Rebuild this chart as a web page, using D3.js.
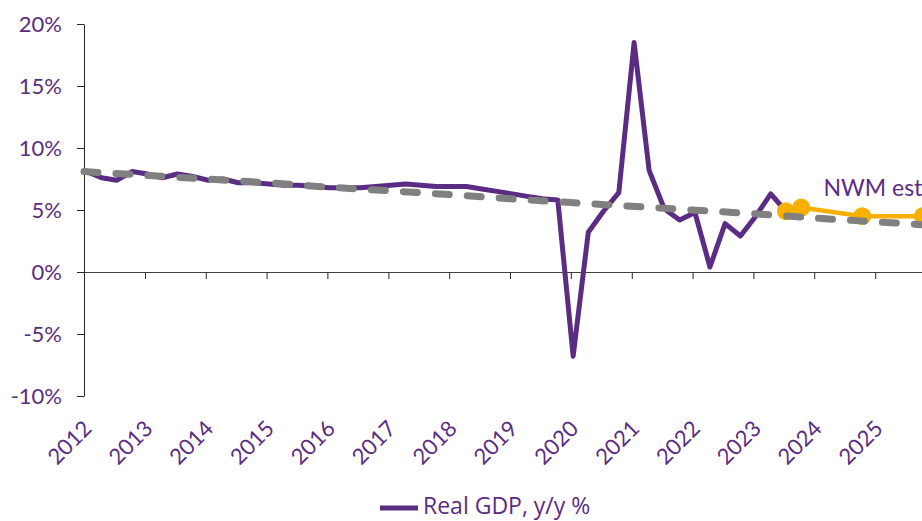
<!DOCTYPE html>
<html>
<head>
<meta charset="utf-8">
<script src="https://cdn.jsdelivr.net/npm/d3@7"></script>
<style>
  html, body { margin: 0; padding: 0; overflow: hidden; background: #fff; }
  svg { display: block; }
</style>
</head>
<body>
<svg id="chart"></svg>
<script>
// page size
var width = 922;
var height = 521;
var pad = { top: 24, left: 84, bottom: 396 };

// real GDP, y/y %, quarterly
var gdpQuarters = [
  "2012Q1","2012Q2","2012Q3","2012Q4",
  "2013Q1","2013Q2","2013Q3","2013Q4",
  "2014Q1","2014Q2","2014Q3","2014Q4",
  "2015Q1","2015Q2","2015Q3","2015Q4",
  "2016Q1","2016Q2","2016Q3","2016Q4",
  "2017Q1","2017Q2","2017Q3","2017Q4",
  "2018Q1","2018Q2","2018Q3","2018Q4",
  "2019Q1","2019Q2","2019Q3","2019Q4",
  "2020Q1","2020Q2","2020Q3","2020Q4",
  "2021Q1","2021Q2","2021Q3","2021Q4",
  "2022Q1","2022Q2","2022Q3","2022Q4",
  "2023Q1","2023Q2","2023Q3"
];
var gdpValues = [
  8.1, 7.6, 7.4, 8.1,
  7.9, 7.6, 7.9, 7.7,
  7.4, 7.5, 7.2, 7.2,
  7.1, 7.0, 7.0, 6.9,
  6.8, 6.8, 6.8, 6.9,
  7.0, 7.1, 7.0, 6.9,
  6.9, 6.9, 6.7, 6.5,
  6.3, 6.1, 5.9, 5.8,
  -6.8, 3.2, 4.9, 6.4,
  18.5, 8.2, 5.1, 4.2,
  4.8, 0.4, 3.9, 2.9,
  4.5, 6.3, 4.9
];

// NWM estimates
var estQuarters = ["2023Q3", "2023Q4", "2024Q4", "2025Q4"];
var estValues = [4.9, 5.2, 4.5, 4.5];

// trend (grey dashed), start of each year
var trendYears = [2012,2013,2014,2015,2016,2017,2018,2019,2020,2021,2022,2023,2024,2025,2026];
var trendValues = [8.1, 7.8, 7.5, 7.2, 6.85, 6.55, 6.25, 5.9, 5.6, 5.3, 5.0, 4.7, 4.35, 4.05, 3.75];

// axis ticks
var yTicks = [-10, -5, 0, 5, 10, 15, 20];
var xYears = [2012,2013,2014,2015,2016,2017,2018,2019,2020,2021,2022,2023,2024,2025];

var purple = "#5b2c83";
var orange = "#f7b000";
var grey = "#808080";

// quarter -> date (middle of the quarter's first month)
function qDate(s) {
  return new Date(+s.slice(0, 4), (+s.slice(5) - 1) * 3, 15);
}

var gdpData = gdpQuarters.map(function(q, i) { return { date: qDate(q), value: gdpValues[i] }; });
var estData = estQuarters.map(function(q, i) { return { date: qDate(q), value: estValues[i] }; });
var trendData = trendYears.map(function(y, i) { return { date: new Date(y, 0, 1), value: trendValues[i] }; });

var svg = d3.select("#chart")
  .attr("width", width)
  .attr("height", height)
  .attr("viewBox", [0, 0, width, height]);

var xScale = d3.scaleTime()
  .domain([new Date(2012, 0, 1), new Date(2026, 0, 1)])
  .range([pad.left, 936]);

var yScale = d3.scaleLinear()
  .domain([-10, 20])
  .range([pad.bottom, pad.top]);

// y axis
var yAxis = d3.axisLeft(yScale)
  .tickValues(yTicks)
  .tickSize(7)
  .tickSizeOuter(0)
  .tickPadding(15)
  .tickFormat(function(d) { return d + "%"; });
var yg = svg.append("g")
  .attr("transform", "translate(" + pad.left + ",0)")
  .call(yAxis);
yg.select(".domain").attr("stroke", "#262626");
yg.selectAll(".tick line").attr("stroke", "#262626");
yg.selectAll("text")
  .attr("fill", purple)
  .style("font-family", "Lato, sans-serif")
  .style("font-size", "22px");

// x axis on the zero line, labels drawn at the bottom
var xAxis = d3.axisBottom(xScale)
  .tickValues(xYears.map(function(y) { return new Date(y, 0, 1); }))
  .tickSize(7)
  .tickSizeOuter(0)
  .tickFormat(function() { return ""; });
var xg = svg.append("g")
  .attr("transform", "translate(0," + yScale(0) + ")")
  .call(xAxis);
xg.select(".domain").attr("stroke", "#404040");
xg.selectAll(".tick line").attr("stroke", "#262626");

svg.append("g")
  .selectAll("text")
  .data(xYears)
  .enter()
  .append("text")
  .text(function(d) { return d; })
  .attr("text-anchor", "end")
  .attr("fill", purple)
  .style("font-family", "Lato, sans-serif")
  .style("font-size", "22px")
  .attr("transform", function(d) {
    return "translate(" + (xScale(new Date(d, 0, 1)) + 9) + "," + 430 + ") rotate(-45)";
  });

var line = d3.line()
  .x(function(d) { return xScale(d.date); })
  .y(function(d) { return yScale(d.value); });

// real GDP
svg.append("path")
  .datum(gdpData)
  .attr("d", line)
  .attr("fill", "none")
  .attr("stroke", purple)
  .attr("stroke-width", 5)
  .attr("stroke-linejoin", "round");

// NWM estimates
svg.append("path")
  .datum(estData)
  .attr("d", line)
  .attr("fill", "none")
  .attr("stroke", orange)
  .attr("stroke-width", 4.5);
svg.append("g")
  .selectAll("circle")
  .data(estData)
  .enter()
  .append("circle")
  .attr("cx", function(d) { return xScale(d.date); })
  .attr("cy", function(d) { return yScale(d.value); })
  .attr("r", 9)
  .attr("fill", orange);

// trend
svg.append("path")
  .datum(trendData)
  .attr("d", line)
  .attr("fill", "none")
  .attr("stroke", grey)
  .attr("stroke-width", 7)
  .attr("stroke-linecap", "round")
  .attr("stroke-dasharray", "14,18");

// label
svg.append("text")
  .text("NWM est")
  .attr("x", xScale(new Date(2024, 1, 25)))
  .attr("y", yScale(6.1))
  .attr("fill", purple)
  .style("font-family", "Lato, sans-serif")
  .style("font-size", "23px");

// legend
var legend = svg.append("g");
legend.append("line")
  .attr("x1", 380).attr("x2", 418)
  .attr("y1", 508).attr("y2", 508)
  .attr("stroke", purple)
  .attr("stroke-width", 5);
legend.append("text")
  .text("Real GDP, y/y %")
  .attr("x", 423)
  .attr("y", 514)
  .attr("fill", purple)
  .style("font-family", "'Open Sans', sans-serif")
  .style("font-size", "23px");
</script>
</body>
</html>
